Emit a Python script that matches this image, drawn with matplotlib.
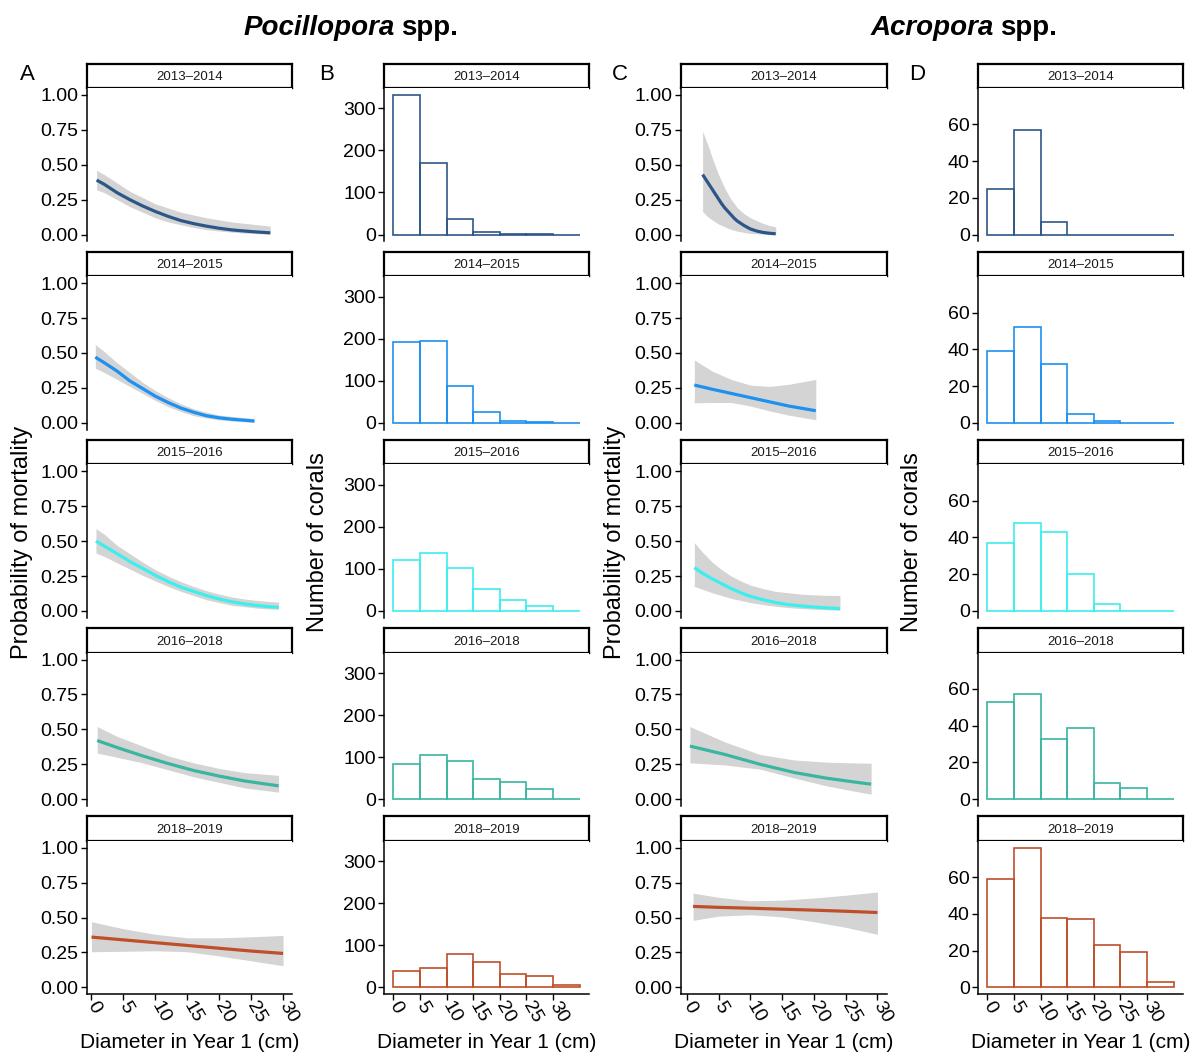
import numpy as np
import matplotlib.pyplot as plt

plt.rcParams['font.family'] = ['Liberation Sans', 'DejaVu Sans']

periods = ["2013–2014", "2014–2015", "2015–2016", "2016–2018", "2018–2019"]
period_colors = ["#2D5688", "#1E90F0", "#3CEFEE", "#3AB5A0", "#BF4F2A"]

bin_edges = [0, 5, 10, 15, 20, 25, 30, 35]

# Pocillopora - fitted probability of mortality vs diameter
poc_x = [
    [0.8, 2, 4, 6, 8, 10, 12, 14, 16, 18, 20, 22, 24, 26, 28],
    [0.6, 2, 4, 6, 8, 10, 12, 14, 16, 18, 20, 22, 25.5],
    [0.7, 2, 4, 6, 8, 10, 12, 14, 16, 18, 20, 22, 24, 26, 28, 29.3],
    [0.9, 4, 8, 12, 16, 20, 24, 29.3],
    [0, 5, 10, 15, 20, 25, 30],
]
poc_fit = [
    [0.39, 0.36, 0.30, 0.25, 0.205, 0.165, 0.13, 0.10, 0.078, 0.06, 0.045, 0.033, 0.025, 0.018, 0.012],
    [0.47, 0.43, 0.37, 0.30, 0.245, 0.19, 0.145, 0.105, 0.075, 0.05, 0.035, 0.025, 0.012],
    [0.50, 0.465, 0.41, 0.355, 0.305, 0.255, 0.21, 0.17, 0.14, 0.11, 0.085, 0.065, 0.05, 0.038, 0.03, 0.025],
    [0.42, 0.37, 0.31, 0.255, 0.205, 0.165, 0.13, 0.095],
    [0.36, 0.34, 0.32, 0.30, 0.28, 0.26, 0.243],
]
poc_hi = [
    [0.46, 0.43, 0.37, 0.31, 0.265, 0.22, 0.19, 0.16, 0.14, 0.12, 0.105, 0.09, 0.08, 0.07, 0.06],
    [0.56, 0.51, 0.43, 0.36, 0.29, 0.23, 0.18, 0.135, 0.10, 0.075, 0.055, 0.045, 0.03],
    [0.59, 0.55, 0.47, 0.41, 0.35, 0.295, 0.25, 0.21, 0.175, 0.145, 0.12, 0.10, 0.085, 0.075, 0.067, 0.064],
    [0.52, 0.45, 0.38, 0.31, 0.26, 0.22, 0.19, 0.17],
    [0.47, 0.42, 0.38, 0.355, 0.355, 0.362, 0.372],
]
poc_lo = [
    [0.32, 0.30, 0.25, 0.20, 0.16, 0.12, 0.09, 0.07, 0.05, 0.035, 0.025, 0.017, 0.01, 0.006, 0.003],
    [0.39, 0.36, 0.31, 0.26, 0.21, 0.16, 0.115, 0.08, 0.05, 0.035, 0.02, 0.012, 0.003],
    [0.415, 0.39, 0.345, 0.30, 0.255, 0.215, 0.175, 0.14, 0.11, 0.08, 0.06, 0.04, 0.03, 0.02, 0.014, 0.012],
    [0.33, 0.30, 0.26, 0.21, 0.16, 0.12, 0.08, 0.05],
    [0.255, 0.258, 0.262, 0.255, 0.225, 0.19, 0.155],
]

# Acropora - fitted probability of mortality vs diameter
acr_x = [
    [2.5, 3, 3.5, 4, 4.5, 5, 5.5, 6, 6.5, 7, 7.5, 8, 9, 10, 11, 12, 13, 14],
    [1.2, 4, 7, 10, 13, 16, 20.3],
    [1.2, 2.5, 4, 5.5, 7, 8.5, 10, 12, 14, 16, 18, 20, 22, 24.1],
    [0.5, 6, 11.5, 17, 22, 26, 29],
    [1, 5, 10, 15, 20, 25, 30],
]
acr_fit = [
    [0.43, 0.395, 0.36, 0.325, 0.29, 0.255, 0.22, 0.19, 0.165, 0.14, 0.115, 0.095, 0.065, 0.04, 0.025, 0.015, 0.009, 0.005],
    [0.27, 0.24, 0.21, 0.18, 0.15, 0.12, 0.086],
    [0.31, 0.27, 0.23, 0.195, 0.16, 0.13, 0.105, 0.08, 0.06, 0.045, 0.036, 0.028, 0.022, 0.017],
    [0.38, 0.32, 0.25, 0.19, 0.15, 0.125, 0.107],
    [0.58, 0.573, 0.567, 0.56, 0.553, 0.545, 0.536],
]
acr_hi = [
    [0.74, 0.68, 0.62, 0.55, 0.49, 0.43, 0.38, 0.33, 0.29, 0.25, 0.22, 0.19, 0.15, 0.12, 0.10, 0.08, 0.065, 0.055],
    [0.45, 0.37, 0.31, 0.27, 0.26, 0.275, 0.31],
    [0.49, 0.42, 0.35, 0.295, 0.25, 0.215, 0.185, 0.16, 0.14, 0.13, 0.12, 0.115, 0.112, 0.11],
    [0.52, 0.41, 0.32, 0.28, 0.265, 0.26, 0.257],
    [0.675, 0.645, 0.62, 0.625, 0.64, 0.66, 0.683],
]
acr_lo = [
    [0.165, 0.14, 0.12, 0.105, 0.09, 0.075, 0.065, 0.055, 0.045, 0.037, 0.03, 0.024, 0.015, 0.008, 0.005, 0.003, 0.001, 0.0],
    [0.143, 0.145, 0.145, 0.12, 0.085, 0.055, 0.021],
    [0.175, 0.155, 0.13, 0.11, 0.09, 0.075, 0.06, 0.045, 0.033, 0.024, 0.017, 0.012, 0.008, 0.005],
    [0.26, 0.245, 0.215, 0.15, 0.095, 0.06, 0.036],
    [0.48, 0.51, 0.52, 0.505, 0.47, 0.43, 0.38],
]

# number of corals per 5 cm size class
poc_counts = [
    [332, 171, 38, 5, 2, 2, 0],
    [191, 195, 87, 26, 4, 2, 0],
    [121, 137, 102, 52, 26, 12, 0],
    [83, 104, 90, 48, 40, 24, 0],
    [40, 46, 80, 61, 32, 28, 5],
]
acr_counts = [
    [25, 57, 7, 0, 0, 0, 0],
    [39, 52, 32, 5, 1, 0, 0],
    [37, 48, 43, 20, 4, 0, 0],
    [53, 57, 33, 39, 9, 6, 0],
    [59, 76, 38, 37, 23, 19, 3],
]

W, H = 1192, 1053
fig = plt.figure(figsize=(W / 100, H / 100), dpi=100)

cols = [(87, 292), (384, 589), (681, 887), (978, 1183)]
row_top0, row_step, strip_h, panel_h = 63.5, 188.2, 24.5, 153.5


def make_axes(col, row):
    left, right = cols[col]
    top = row_top0 + row * row_step
    sax = fig.add_axes([left / W, 1 - (top + strip_h) / H, (right - left) / W, strip_h / H])
    sax.set_xticks([])
    sax.set_yticks([])
    for s in sax.spines.values():
        s.set_linewidth(1.6)
        s.set_color("black")
    sax.text(0.5, 0.45, periods[row], ha="center", va="center", fontsize=9.5,
             color="#1A1A1A", transform=sax.transAxes)
    ax = fig.add_axes([left / W, 1 - (top + strip_h + panel_h) / H,
                       (right - left) / W, panel_h / H])
    ax.spines["top"].set_visible(False)
    ax.spines["right"].set_visible(False)
    for s in ("left", "bottom"):
        ax.spines[s].set_linewidth(1.1)
    ax.tick_params(axis="both", labelsize=14, length=4, width=1, pad=2, colors="black")
    if row < 4:
        ax.spines["bottom"].set_visible(False)
        ax.set_xticks([])
    return ax


def style_xticks(ax, ticks):
    ax.set_xticks(ticks)
    ax.set_xticklabels([str(t) for t in ticks], rotation=-60, ha="left", va="center",
                       rotation_mode="anchor")


for col, (xs, fits, his, los, xlim) in enumerate([
        (poc_x, poc_fit, poc_hi, poc_lo, (-0.7, 31.4)),
        (acr_x, acr_fit, acr_hi, acr_lo, (-0.9, 31.5))]):
    c = col * 2
    for r in range(5):
        ax = make_axes(c, r)
        ax.fill_between(xs[r], los[r], his[r], color="#D4D4D4", lw=0)
        ax.plot(xs[r], fits[r], color=period_colors[r], lw=2.3, solid_capstyle="butt")
        ax.set_xlim(*xlim)
        ax.set_ylim(-0.05, 1.05)
        ax.set_yticks([0, 0.25, 0.5, 0.75, 1.0])
        ax.set_yticklabels(["0.00", "0.25", "0.50", "0.75", "1.00"])
        if r == 4:
            style_xticks(ax, [0, 5, 10, 15, 20, 25, 30])

for col, (counts, ymax, yt) in enumerate([
        (poc_counts, 332, [0, 100, 200, 300]),
        (acr_counts, 76, [0, 20, 40, 60])]):
    c = col * 2 + 1
    for r in range(5):
        ax = make_axes(c, r)
        ax.bar(bin_edges[:-1], counts[r], width=5, align="edge", fill=False,
               edgecolor=period_colors[r], lw=1.2)
        ax.set_xlim(-1.75, 36.75)
        ax.set_ylim(-0.05 * ymax, 1.05 * ymax)
        ax.set_yticks(yt)
        if r == 4:
            style_xticks(ax, [0, 5, 10, 15, 20, 25, 30])

# axis titles
mid_y = 1 - 542 / H
for x, lab in [(22, "Probability of mortality"), (318, "Number of corals"),
               (615, "Probability of mortality"), (912, "Number of corals")]:
    fig.text(x / W, mid_y, lab, rotation=90, ha="center", va="center", fontsize=17)
for left, right in cols:
    fig.text((left + right) / 2 / W, 1 - 1042 / H, "Diameter in Year 1 (cm)",
             ha="center", va="center", fontsize=15)

# panel letters
for x, letter in [(27, "A"), (327, "B"), (620, "C"), (917, "D")]:
    fig.text(x / W, 1 - 75 / H, letter, ha="center", va="center", fontsize=16)

# species titles
fig.text(395 / W, 1 - 28 / H, "Pocillopora", ha="right", va="center", fontsize=20,
         fontweight="bold", fontstyle="italic")
fig.text(401 / W, 1 - 28 / H, "spp.", ha="left", va="center", fontsize=20, fontweight="bold")
fig.text(994 / W, 1 - 28 / H, "Acropora", ha="right", va="center", fontsize=20,
         fontweight="bold", fontstyle="italic")
fig.text(1000 / W, 1 - 28 / H, "spp.", ha="left", va="center", fontsize=20, fontweight="bold")

fig.savefig("out.png", dpi=100)
